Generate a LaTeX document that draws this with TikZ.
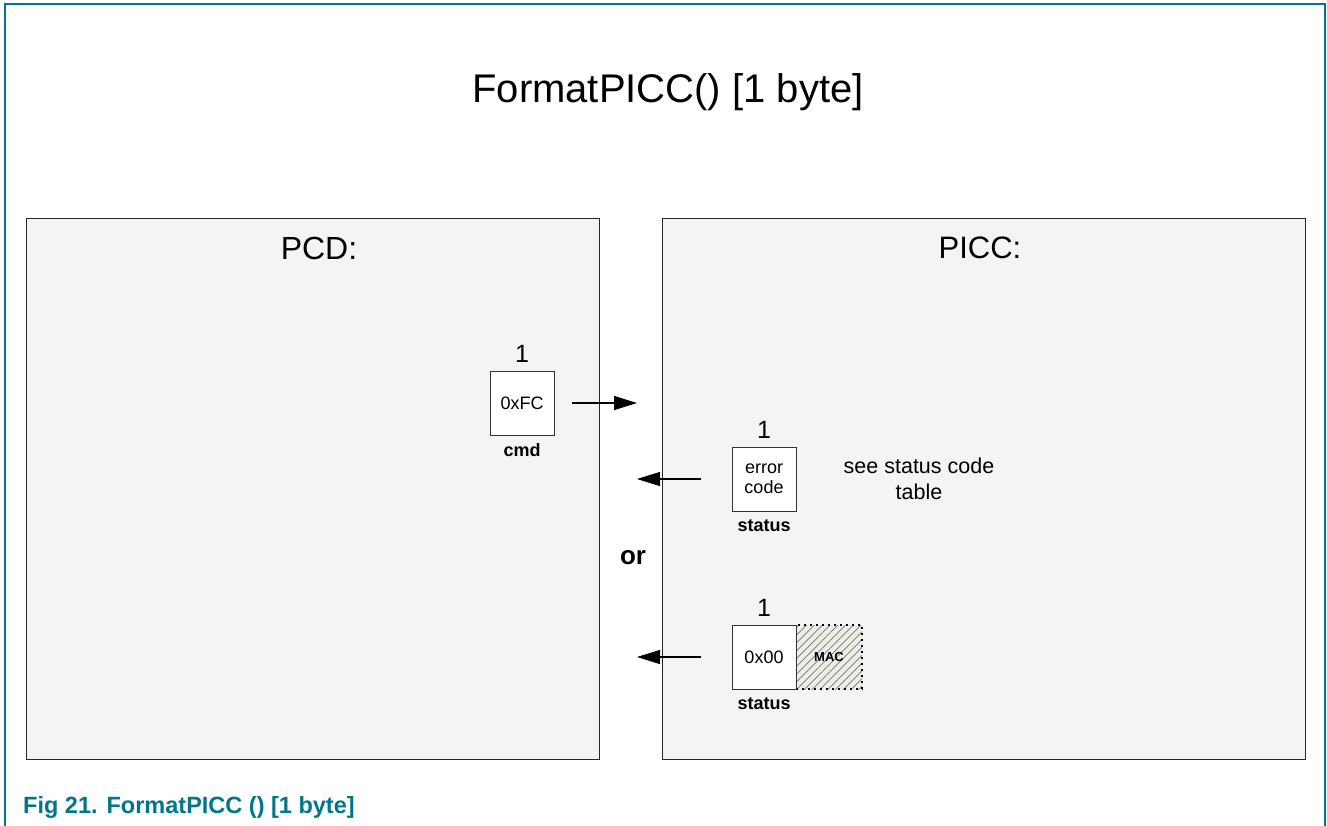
\documentclass[tikz,border=0pt]{standalone}
\usepackage{fontspec}
\setmainfont{Liberation Sans}
\usetikzlibrary{arrows.meta,patterns.meta}
\definecolor{nxpteal}{RGB}{0,118,138}
\definecolor{panelfill}{RGB}{244,244,244}
\definecolor{panelline}{RGB}{40,40,40}
\definecolor{macfill}{RGB}{238,238,230}
\tikzset{
  panel/.style={draw=panelline, line width=1pt, fill=panelfill},
  bytebox/.style={draw=black!80, line width=0.8pt, fill=white, minimum width=64pt, minimum height=64pt, inner sep=0pt, font=\fontsize{18}{21}\selectfont, align=center},
  count/.style={font=\fontsize{25}{27}\selectfont, inner sep=0pt},
  fieldname/.style={font=\bfseries\fontsize{18}{20}\selectfont, inner sep=0pt},
  flow/.style={line width=1.2pt, -{Triangle[length=23pt,width=14pt]}},
}
\begin{document}
\begin{tikzpicture}[x=1pt,y=-1pt]
\useasboundingbox (0,0) rectangle (1327,825);
% outer figure frame
\draw[nxpteal, line width=1.2pt] (5,830) -- (5,4) -- (1325,4) -- (1325,830);
% title
\node[font=\fontsize{40}{44}\selectfont, inner sep=0pt] (title) at (668,92) {FormatPICC() [1 byte]};
% the two parties
\draw[panel] (26,218) rectangle (599,759);
\draw[panel] (662,218) rectangle (1305,759);
\node[font=\fontsize{32}{34}\selectfont, inner sep=0pt] (pcd) at (319,248) {PCD:};
\node[font=\fontsize{31}{34}\selectfont, inner sep=0pt] (picc) at (980,248) {PICC:};
% command byte
\node[bytebox] (cmd) at (522,403) {0xFC};
\node[count] (cmdn) at (522,354) {1};
\node[fieldname] (cmdl) at (522,450) {cmd};
\coordinate (cmdfrom) at (572,403);
\coordinate (cmdto) at (637,403);
\draw[flow] (cmdfrom) -- (cmdto);
% error response
\node[bytebox] (err) at (764,479) {error\\[-1pt]code};
\node[count] (errn) at (764,430) {1};
\node[fieldname] (errl) at (764,526) {status};
\node[font=\fontsize{21.5}{26}\selectfont, align=center, inner sep=0pt] (note) at (919,479) {see status code\\table};
\coordinate (errfrom) at (701,479);
\coordinate (errto) at (637,479);
\draw[flow] (errfrom) -- (errto);
% alternative
\node[anchor=base, font=\bfseries\fontsize{26}{28}\selectfont, inner sep=0pt] (or) at (633,564) {or};
% success response with MAC
\fill[macfill] (796,625) rectangle (862,689);
\fill[pattern={Lines[angle=45,distance=5.5pt,line width=0.7pt]}, pattern color=black!55] (796,625) rectangle (862,689);
\node[draw=black, line width=1.8pt, dash pattern=on 1.8pt off 4.2pt, minimum width=66pt, minimum height=64pt, inner sep=0pt, font=\bfseries\fontsize{13}{15}\selectfont] (mac) at (829,657) {MAC};
\node[bytebox] (ok) at (764,657) {0x00};
\node[count] (okn) at (764,608) {1};
\node[fieldname] (okl) at (764,704) {status};
\coordinate (okfrom) at (701,657);
\coordinate (okto) at (637,657);
\draw[flow] (okfrom) -- (okto);
% caption
\node[anchor=base west, text=nxpteal, font=\bfseries\fontsize{23.5}{25}\selectfont, inner sep=0pt] (cap) at (23,813) {Fig 21.\hspace{9pt}FormatPICC () [1 byte]};
\end{tikzpicture}
\end{document}
